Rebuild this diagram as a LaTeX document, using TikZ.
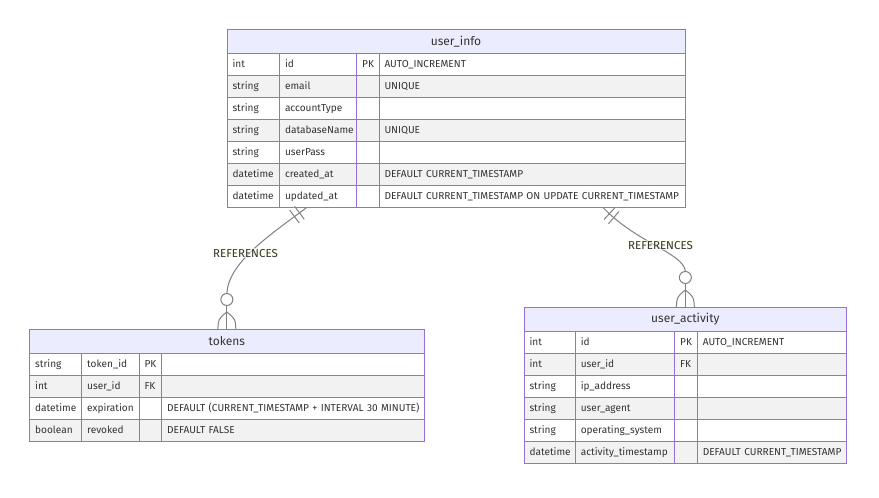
\documentclass[tikz,border=0pt]{standalone}
\usepackage{fontspec}
\setmainfont{Fira Sans}
\usetikzlibrary{positioning,calc}
\definecolor{erborder}{HTML}{9370DB}
\definecolor{erhead}{HTML}{ECECFF}
\definecolor{rowgray}{HTML}{F2F2F2}
\definecolor{ertext}{HTML}{333333}
\definecolor{relline}{HTML}{808080}
\definecolor{lblbg}{RGB}{249,255,236}

\begin{document}
\begin{tikzpicture}[x=1pt, y=-1pt,
    cell/.style={draw=erborder, line width=1pt, outer sep=0pt, inner xsep=5.5pt, inner ysep=0pt, minimum height=22pt, align=left, text=ertext, font=\fontsize{10.1}{11}\selectfont, text height=7.5pt, text depth=2pt},
    head/.style={draw=erborder, fill=erhead, line width=1pt, outer sep=0pt, minimum height=24pt, anchor=north, text=ertext, font=\fontsize{12}{14}\selectfont},
    rel/.style={draw=relline, line width=1pt},
    bar/.style={draw=relline, line width=1pt, sloped, minimum width=0pt, minimum height=16pt, inner sep=0pt, outer sep=0pt},
    circ/.style={circle, draw=relline, line width=1pt, fill=white, minimum size=12pt, inner sep=0pt},
    rlabel/.style={fill=lblbg, fill opacity=0.6, text opacity=1, text=ertext, inner sep=1pt, font=\fontsize{11.5}{13}\selectfont}
]
\useasboundingbox[fill=white] (0,0) rectangle (879,498);

% user_info
\node[head, minimum width=458pt] (ui) at (456,29.5) {user\_info};
\foreach \ty/\na/\ke/\co [count=\i] in {int/id/PK/AUTO\_INCREMENT, string/email//UNIQUE, string/accountType//, string/databaseName//UNIQUE, string/userPass//, datetime/created\_at//DEFAULT CURRENT\_TIMESTAMP, datetime/updated\_at//DEFAULT CURRENT\_TIMESTAMP ON UPDATE CURRENT\_TIMESTAMP} {
  \ifodd\i\relax \def\rf{white}\else \def\rf{rowgray}\fi
  \node[cell, fill=\rf, text width=41.5pt, anchor=north west] (ui-\i-a) at (227,{31.5+22*\i}) {\ty};
  \node[cell, fill=\rf, text width=66.2pt, right=0pt of ui-\i-a] (ui-\i-b) {\na};
  \node[cell, fill=\rf, text width=11.3pt, right=0pt of ui-\i-b] (ui-\i-c) {\ke};
  \node[cell, fill=\rf, text width=295pt, right=0pt of ui-\i-c] (ui-\i-d) {\mbox{\co}};
}

% tokens
\node[head, minimum width=394.3pt] (tk) at (226.85,329.5) {tokens};
\foreach \ty/\na/\ke/\co [count=\i] in {string/token\_id/PK/, int/user\_id/FK/, datetime/expiration//DEFAULT (CURRENT\_TIMESTAMP + INTERVAL 30 MINUTE), boolean/revoked//DEFAULT FALSE} {
  \ifodd\i\relax \def\rf{white}\else \def\rf{rowgray}\fi
  \node[cell, fill=\rf, text width=41pt, anchor=north west] (tk-\i-a) at (29.7,{331.5+22*\i}) {\ty};
  \node[cell, fill=\rf, text width=46.3pt, right=0pt of tk-\i-a] (tk-\i-b) {\na};
  \node[cell, fill=\rf, text width=11.7pt, right=0pt of tk-\i-b] (tk-\i-c) {\ke};
  \node[cell, fill=\rf, text width=251.3pt, right=0pt of tk-\i-c] (tk-\i-d) {\mbox{\co}};
}

% user_activity
\node[head, minimum width=322.7pt] (ua) at (685.35,307.5) {user\_activity};
\foreach \ty/\na/\ke/\co [count=\i] in {int/id/PK/AUTO\_INCREMENT, int/user\_id/FK/, string/ip\_address//, string/user\_agent//, string/operating\_system//, datetime/activity\_timestamp//DEFAULT CURRENT\_TIMESTAMP} {
  \ifodd\i\relax \def\rf{white}\else \def\rf{rowgray}\fi
  \node[cell, fill=\rf, text width=40.3pt, anchor=north west] (ua-\i-a) at (524,{309.5+22*\i}) {\ty};
  \node[cell, fill=\rf, text width=88.4pt, right=0pt of ua-\i-a] (ua-\i-b) {\na};
  \node[cell, fill=\rf, text width=11.6pt, right=0pt of ua-\i-b] (ua-\i-c) {\ke};
  \node[cell, fill=\rf, text width=138.4pt, right=0pt of ua-\i-c] (ua-\i-d) {\mbox{\co}};
}

% Relationship ends
\coordinate (uiL) at (306.7,207.5);
\coordinate (uiR) at (603,207.5);
\node[circ] (tkO) at ($(tk.north)+(0,-30)$) {};
\node[circ] (uaO) at ($(ua.north)+(0,-30)$) {};

% user_info -> tokens
\draw[rel] (uiL) .. controls (270,235) and (229,262) .. (tkO.north) node[bar, pos=0.065] {} node[bar, pos=0.11] {};
\draw[rel] (tkO.south) -- (tk.north);
\draw[rel] ($(tk.north)+(-9,0)$) .. controls ($(tk.north)+(-8.5,-10.5)$) .. ($(tk.north)+(0,-17.5)$) .. controls ($(tk.north)+(8.5,-10.5)$) .. ($(tk.north)+(9,0)$);
\node[rlabel] (lblL) at (245.5,253.3) {REFERENCES};

% user_info -> user_activity
\draw[rel] (uiR) .. controls (637,243) and (683,253) .. (uaO.north) node[bar, pos=0.061] {} node[bar, pos=0.102] {};
\draw[rel] (uaO.south) -- (ua.north);
\draw[rel] ($(ua.north)+(-9,0)$) .. controls ($(ua.north)+(-8.5,-10.5)$) .. ($(ua.north)+(0,-17.5)$) .. controls ($(ua.north)+(8.5,-10.5)$) .. ($(ua.north)+(9,0)$);
\node[rlabel] (lblR) at (660.5,245.3) {REFERENCES};

\end{tikzpicture}
\end{document}
